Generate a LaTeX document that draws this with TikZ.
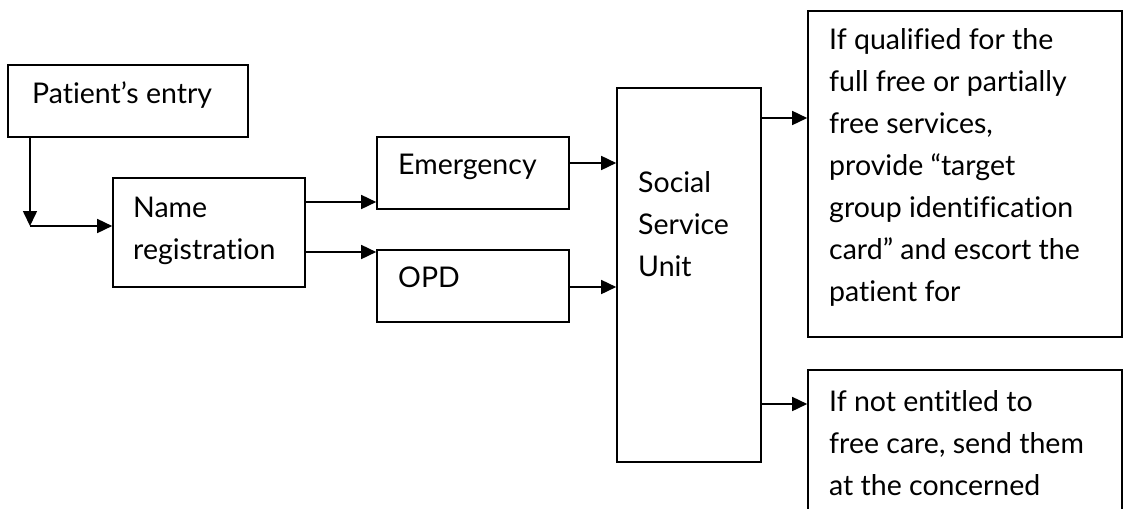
\documentclass[tikz,border=0pt]{standalone}
\usepackage{fontspec}
\setmainfont[Ligatures=NoCommon]{Lato}
\usetikzlibrary{arrows.meta}
\tikzstyle{box}=[draw, line width=1.6pt, inner sep=0pt]
\tikzstyle{txt}=[anchor=base west, align=left, inner sep=0pt, font=\fontsize{28.5}{42}\selectfont]
\tikzstyle{arr}=[line width=1.6pt, -{Triangle[length=15pt, width=14pt]}]

\begin{document}
\begin{tikzpicture}[x=1pt, y=-1pt]
\clip (0,0) rectangle (1128,509);
% Boxes
    \node[box, minimum width=240pt, minimum height=72pt] (entry) at (128,101) {};
    \node[box, minimum width=192pt, minimum height=109pt] (reg) at (209,232.5) {};
    \node[box, minimum width=192pt, minimum height=72pt] (emerg) at (473,173) {};
    \node[box, minimum width=192pt, minimum height=72pt] (opd) at (473,286) {};
    \node[box, minimum width=144pt, minimum height=374pt] (ssu) at (689,275) {};
    \node[box, minimum width=314pt, minimum height=326pt] (qual) at (965,174) {};
    \node[box, minimum width=314pt, minimum height=170pt] (notent) at (965,455) {};
% Texts (anchored on the last baseline)
    \node[txt] (entrytxt) at (32,103) {Patient's entry};
    \node[txt] (regtxt) at (133,259) {Name\\registration};
    \node[txt] (emergtxt) at (398,174) {Emergency};
    \node[txt] (opdtxt) at (398,287) {OPD};
    \node[txt] (ssutxt) at (638,276) {Social\\Service\\Unit};
    \node[txt] (qualtxt) at (829,301) {If qualified for the\\full free or partially\\free services,\\provide “target\\group identification\\card” and escort the\\patient for};
    \node[txt] (notenttxt) at (829,495) {If not entitled to\\free care, send them\\at the concerned};
% Arrows
    \coordinate (bend) at (30,226);
    \draw[arr] (entry.south -| bend) -- (bend);
    \draw[arr] (bend) -- (reg.west |- bend);
    \draw[arr] (reg.east |- 0,202) -- (emerg.west |- 0,202);
    \draw[arr] (reg.east |- 0,252) -- (opd.west |- 0,252);
    \draw[arr] (emerg.east |- 0,163) -- (ssu.west |- 0,163);
    \draw[arr] (opd.east |- 0,287) -- (ssu.west |- 0,287);
    \draw[arr] (ssu.east |- 0,118) -- (qual.west |- 0,118);
    \draw[arr] (ssu.east |- 0,404) -- (notent.west |- 0,404);
\end{tikzpicture}
\end{document}
